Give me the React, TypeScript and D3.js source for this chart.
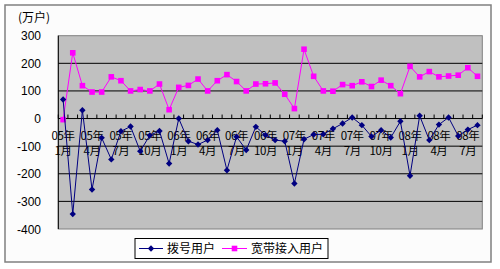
import React from "react";
import * as d3 from "d3";

const categories = [
  "05年1月","05年2月","05年3月","05年4月","05年5月","05年6月","05年7月","05年8月","05年9月","05年10月","05年11月","05年12月",
  "06年1月","06年2月","06年3月","06年4月","06年5月","06年6月","06年7月","06年8月","06年9月","06年10月","06年11月","06年12月",
  "07年1月","07年2月","07年3月","07年4月","07年5月","07年6月","07年7月","07年8月","07年9月","07年10月","07年11月","07年12月",
  "08年1月","08年2月","08年3月","08年4月","08年5月","08年6月","08年7月","08年8月",
];

const dialUp = [
  69, -346, 30, -257, -70, -148, -46, -29, -118, -61, -45, -163,
  0, -82, -94, -78, -42, -187, -66, -114, -30, -60, -78, -82,
  -235, -75, -58, -57, -37, -18, 4, -24, -65, -42, -69, -10,
  -207, 10, -78, -22, 4, -63, -40, -24,
];

const broadband = [
  -4, 238, 119, 96, 96, 151, 137, 100, 105, 100, 125, 32,
  113, 120, 143, 100, 137, 159, 134, 100, 125, 126, 129, 88,
  36, 251, 153, 100, 99, 123, 119, 133, 116, 139, 119, 90,
  189, 151, 170, 151, 154, 157, 184, 153,
];

const yTicks = [300, 200, 100, 0, -100, -200, -300, -400];
const seriesNames = ["拨号用户", "宽带接入用户"];
const unitLabel = "(万户)";

const W = 500, H = 269;
const plot = { left: 58.3, right: 482.3, top: 35.7, bottom: 229 };
const cjk = "'Noto Sans CJK SC', 'Noto Sans', sans-serif";
const latin = "'Liberation Sans', Arial, sans-serif";

const diamond = (s: number) => `M0,${-s}L${s},0L0,${s}L${-s},0Z`;
const square = (s: number) => `M${-s},${-s}H${s}V${s}H${-s}Z`;

export default function App() {
  const x = d3.scaleBand<number>().domain(d3.range(categories.length)).range([plot.left, plot.right]).padding(0);
  const y = d3.scaleLinear().domain([-400, 300]).range([plot.bottom, plot.top]);
  const cx = (i: number) => (x(i) as number) + x.bandwidth() / 2;
  const line = d3.line<number>().x((_, i) => cx(i)).y((v) => y(v));
  const y0 = y(0);
  const ticks = d3.range(categories.length + 1).map((i) => plot.left + i * x.bandwidth());

  return (
    <svg width={W} height={H} style={{ position: "absolute", left: 0, top: 0, background: "#fff" }}>
      <rect x={5} y={5} width={486} height={257} fill="#fcfcfc" stroke="#808080" strokeWidth={1.5} />
      <text x={34} y={22} textAnchor="middle" fontFamily={cjk} fontSize={12} fill="#000">{unitLabel}</text>
      <rect x={plot.left} y={plot.top} width={plot.right - plot.left} height={plot.bottom - plot.top} fill="#c0c0c0" stroke="#808080" strokeWidth={1} />
      {yTicks.filter((t) => t !== 0 && t !== 300 && t !== -400).map((t) => (
        <line key={t} x1={plot.left} x2={plot.right} y1={y(t)} y2={y(t)} stroke="#000" strokeWidth={1} />
      ))}
      <line x1={plot.left} x2={plot.left} y1={plot.top} y2={plot.bottom} stroke="#000" strokeWidth={1} />
      {yTicks.map((t) => (
        <text key={t} x={41} y={y(t) + 4.5} textAnchor="end" fontFamily={latin} fontSize={12} fill="#000">{t}</text>
      ))}
      <line x1={plot.left} x2={plot.right} y1={y0} y2={y0} stroke="#000" strokeWidth={1} />
      {ticks.map((tx, i) => (
        <line key={i} x1={tx} x2={tx} y1={y0 - 4} y2={y0} stroke="#000" strokeWidth={1} />
      ))}
      {categories.map((c, i) => {
        if (i % 3 !== 0) return null;
        const m = c.match(/^(\d+年)(\d+月)$/);
        if (!m) return null;
        return (
          <text key={c} x={cx(i)} textAnchor="middle" fontFamily={cjk} fontSize={11.5} letterSpacing={-0.4} fill="#000">
            <tspan x={cx(i)} y={140}>{m[1]}</tspan>
            <tspan x={cx(i)} y={155}>{m[2]}</tspan>
          </text>
        );
      })}
      <path d={line(broadband) || ""} fill="none" stroke="#ff00ff" strokeWidth={1} />
      {broadband.map((v, i) => (
        <path key={i} d={square(2.8)} transform={`translate(${cx(i)},${y(v)})`} fill="#ff00ff" />
      ))}
      <path d={line(dialUp) || ""} fill="none" stroke="#000080" strokeWidth={1} />
      {dialUp.map((v, i) => (
        <path key={i} d={diamond(3.2)} transform={`translate(${cx(i)},${y(v)})`} fill="#000080" />
      ))}
      <g>
        <rect x={135} y={238.5} width={193} height={20} fill="#fff" stroke="#000" strokeWidth={1} />
        <line x1={139} x2={163} y1={248.5} y2={248.5} stroke="#000080" strokeWidth={1} />
        <path d={diamond(3.2)} transform="translate(151,248.5)" fill="#000080" />
        <text x={167} y={253} fontFamily={cjk} fontSize={12} fill="#000">{seriesNames[0]}</text>
        <line x1={222} x2={247} y1={248.5} y2={248.5} stroke="#ff00ff" strokeWidth={1} />
        <path d={square(2.8)} transform="translate(234.5,248.5)" fill="#ff00ff" />
        <text x={251} y={253} fontFamily={cjk} fontSize={12} fill="#000">{seriesNames[1]}</text>
      </g>
    </svg>
  );
}
